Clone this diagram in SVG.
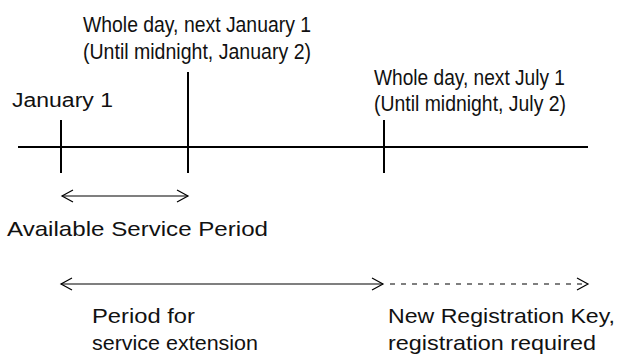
<svg xmlns="http://www.w3.org/2000/svg" width="619" height="355" viewBox="0 0 619 355">
<defs>
<style>
.t{font-family:"Liberation Sans",Arial,sans-serif;fill:#111;}
.n{font-size:22.5px;}
.r{font-size:20px;}
.axis{stroke:#000;stroke-width:2;fill:none;}
.arr{stroke:#000;stroke-width:1.2;fill:none;}
.dash{stroke:#000;stroke-width:1.2;fill:none;stroke-dasharray:5 6;}
</style>
</defs>
<rect width="619" height="355" fill="#fff"/>
<g id="timeline">
<line class="axis" x1="18" y1="147" x2="588" y2="147"/>
</g>
<g id="tick-jan1">
<line class="axis" x1="61" y1="120" x2="61" y2="173"/>
<text class="t r" x="12" y="107" font-size="18.5" textLength="101" lengthAdjust="spacingAndGlyphs">January 1</text>
</g>
<g id="tick-next-jan1">
<line class="axis" x1="188" y1="72" x2="188" y2="173"/>
<text class="t n" x="83" y="32" textLength="228" lengthAdjust="spacingAndGlyphs">Whole day, next January 1</text>
<text class="t n" x="83" y="59" textLength="228" lengthAdjust="spacingAndGlyphs">(Until midnight, January 2)</text>
</g>
<g id="tick-next-jul1">
<line class="axis" x1="384" y1="120" x2="384" y2="173"/>
<text class="t n" x="374" y="85" textLength="191" lengthAdjust="spacingAndGlyphs">Whole day, next July 1</text>
<text class="t n" x="374" y="111" textLength="192" lengthAdjust="spacingAndGlyphs">(Until midnight, July 2)</text>
</g>
<g id="available-period">
<text class="t" x="7" y="236" font-size="21" textLength="261" lengthAdjust="spacingAndGlyphs">Available Service Period</text>
</g>
<g id="extension-period">
<text class="t" x="92" y="323" font-size="21" textLength="103" lengthAdjust="spacingAndGlyphs">Period for</text>
<text class="t" x="92" y="350" font-size="21" textLength="166" lengthAdjust="spacingAndGlyphs">service extension</text>
</g>
<g id="new-key">
<text class="t" x="388" y="323" font-size="21" textLength="227" lengthAdjust="spacingAndGlyphs">New Registration Key,</text>
<text class="t" x="388" y="350" font-size="21" textLength="208" lengthAdjust="spacingAndGlyphs">registration required</text>
</g>
<g id="connectors">
<line class="arr" x1="62" y1="196" x2="188" y2="196"/>
<polyline class="arr" points="73,190 62,196 73,202"/>
<polyline class="arr" points="177,190 188,196 177,202"/>
<line class="arr" x1="61" y1="284" x2="383" y2="284"/>
<polyline class="arr" points="72,278 61,284 72,290"/>
<polyline class="arr" points="372,278 383,284 372,290"/>
<line class="dash" x1="390" y1="284" x2="588" y2="284"/>
<polyline class="arr" points="577,278 588,284 577,290"/>
</g>
</svg>
